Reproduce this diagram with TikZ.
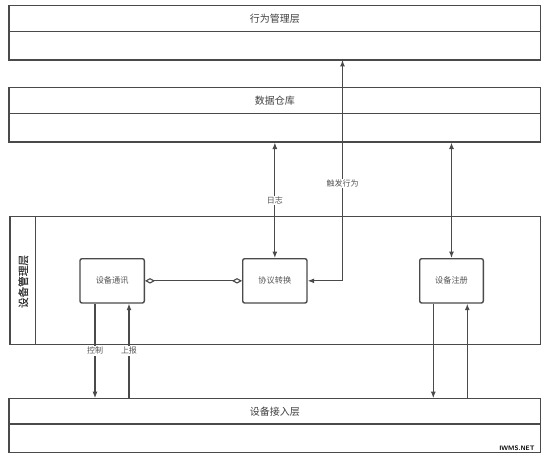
\documentclass[tikz,border=0pt]{standalone}
\usepackage{fontspec}
\newfontfamily\cjk{Noto Sans CJK SC}
\newfontfamily\cjkmid[FakeBold=0.3]{Noto Sans CJK SC}
\usetikzlibrary{arrows.meta}

\definecolor{linegray}{HTML}{4A4A4A}
\definecolor{txtgray}{HTML}{555555}

\begin{document}
\begin{tikzpicture}[x=1pt, y=-1pt]

  \tikzstyle{layer}  = [draw=linegray, line width=1.1pt, inner sep=0pt, minimum width=531.5pt]
  \tikzstyle{div}    = [draw=linegray, line width=1.1pt]
  \tikzstyle{ttl}    = [font=\cjk\fontsize{10}{11}\selectfont, text=txtgray!75!black]
  \tikzstyle{unit}   = [draw=linegray, line width=1.4pt, rounded corners=2pt, inner sep=0pt,
                        minimum width=64.3pt, minimum height=44.3pt, font=\cjk\fontsize{8.2}{9}\selectfont, text=txtgray]
  \tikzstyle{arr}    = [draw=linegray, line width=1.1pt, -{Latex[length=6.5pt,width=5pt]}]
  \tikzstyle{biarr}  = [draw=linegray, line width=1.1pt, {Latex[length=6.5pt,width=5pt]}-{Latex[length=6.5pt,width=5pt]}]
  \tikzstyle{elbl}   = [fill=white, inner sep=1pt, font=\cjk\fontsize{8}{9}\selectfont, text=txtgray]

  \useasboundingbox[fill=white] (0,0) rectangle (550,460);

  % ---- LAYERS ----
  \node[layer, minimum height=54.3pt] (act) at (274.75,32.85) {};
  \draw[div] (act.west |- 0,31.7) -- (act.east |- 0,31.7);
  \node[ttl] (actT) at (274.75,18.5) {行为管理层};

  \node[layer, minimum height=54.3pt] (store) at (274.75,114.85) {};
  \draw[div] (store.west |- 0,113.3) -- (store.east |- 0,113.3);
  \node[ttl] (storeT) at (274.75,100.5) {数据仓库};

  \node[layer, minimum width=530.5pt, minimum height=127.6pt] (mgmt) at (275.25,280.5) {};
  \draw[div] (mgmt.north -| 35.7,0) -- (mgmt.south -| 35.7,0);
  \node[rotate=90, font=\cjkmid\fontsize{10.6}{12}\selectfont, text=txtgray!60!black] (mgmtT) at (23.3,281.5) {设备管理层};

  \node[layer, minimum height=54pt] (dev) at (274.75,425.7) {};
  \draw[div] (dev.west |- 0,424) -- (dev.east |- 0,424);
  \node[ttl] (devT) at (274.75,411.4) {设备接入层};

  % ---- UNITS ----
  \node[unit] (comm) at (112.15,280.85) {设备通讯};
  \node[unit] (xfer) at (274.85,280.85) {协议转换};
  \node[unit, minimum width=63.6pt] (reg) at (451.5,280.85) {设备注册};

  % ---- CONNECTORS ----
  \coordinate (trig) at (342.5,60);
  \draw[biarr] (trig) |- (xfer.east) node[elbl, pos=0.28] {触发行为};
  \draw[biarr] (xfer.north) -- (xfer.north |- store.south) node[elbl, pos=0.5] {日志};
  \draw[biarr] (reg.north) -- (reg.north |- store.south);
  \draw[draw=linegray, line width=1.1pt, {Diamond[open,length=10pt,width=5.5pt]}-{Diamond[open,length=10pt,width=5.5pt]}]
    (comm.east) -- (xfer.west);

  \draw[arr] ([xshift=-17.15pt]comm.south) -- ([xshift=-17.15pt]comm.south |- dev.north) node[elbl, pos=0.5] {控制};
  \draw[arr] ([xshift=16.85pt]comm.south |- dev.north) -- ([xshift=16.85pt]comm.south) node[elbl, pos=0.5] {上报};
  \draw[arr] ([xshift=-18.2pt]reg.south) -- ([xshift=-18.2pt]reg.south |- dev.north);
  \draw[arr] ([xshift=15.8pt]reg.south |- dev.north) -- ([xshift=15.8pt]reg.south);

  % ---- MARK ----
  \node[inner sep=0pt, font=\sffamily\bfseries\fontsize{6.5}{7}\selectfont] (mark) at (517,448) {IWMS.NET};

\end{tikzpicture}
\end{document}
